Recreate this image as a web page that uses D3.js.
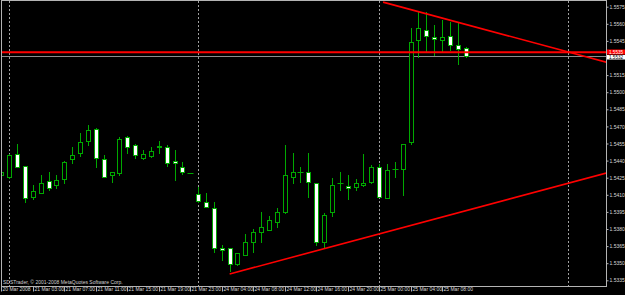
<!DOCTYPE html>
<html>
<head>
<meta charset="utf-8">
<script src="https://cdn.jsdelivr.net/npm/d3@7"></script>
<style>
body { margin: 0; background: #000; }
svg { display: block; }
</style>
</head>
<body>
<script>
// H1 candles, 20 Mar 2008 23:00 -> 25 Mar 2008 11:00
const opens = [1.5427, 1.5426, 1.5446, 1.5435, 1.5408, 1.5412, 1.5422, 1.5419, 1.5424, 1.5441,
               1.5447, 1.5457, 1.5468, 1.5441, 1.5427, 1.5429, 1.5461, 1.5454, 1.5442, 1.5444,
               1.5452, 1.5452, 1.5440, 1.5434, 1.5429, 1.5411, 1.5404, 1.5398, 1.5363, 1.5363,
               1.5349, 1.5357, 1.5369, 1.5377, 1.5379, 1.5386, 1.5395, 1.5426, 1.5430, 1.5430,
               1.5420, 1.5369, 1.5395, 1.5420, 1.5418, 1.5417, 1.5419, 1.5421, 1.5434, 1.5407,
               1.5433, 1.5433, 1.5456, 1.5546, 1.5555, 1.5548, 1.5546, 1.5549, 1.5541, 1.5539];
const highs = [1.5442, 1.5446, 1.5455, 1.5435, 1.5419, 1.5427, 1.5430, 1.5427, 1.5440, 1.5452,
               1.5464, 1.5471, 1.5469, 1.5445, 1.5430, 1.5461, 1.5462, 1.5455, 1.5449, 1.5452,
               1.5457, 1.5454, 1.5449, 1.5439, 1.5429, 1.5417, 1.5412, 1.5404, 1.5366, 1.5363,
               1.5359, 1.5376, 1.5380, 1.5395, 1.5391, 1.5398, 1.5454, 1.5447, 1.5434, 1.5447,
               1.5420, 1.5394, 1.5425, 1.5430, 1.5427, 1.5424, 1.5446, 1.5436, 1.5437, 1.5437,
               1.5439, 1.5455, 1.5556, 1.5570, 1.5570, 1.5559, 1.5563, 1.5562, 1.5562, 1.5540];
const lows = [1.5421, 1.5425, 1.5434, 1.5404, 1.5406, 1.5412, 1.5414, 1.5416, 1.5420, 1.5438,
              1.5444, 1.5454, 1.5434, 1.5426, 1.5421, 1.5427, 1.5447, 1.5442, 1.5441, 1.5443,
              1.5447, 1.5435, 1.5423, 1.5428, 1.5429, 1.5404, 1.5399, 1.5360, 1.5353, 1.5343,
              1.5348, 1.5357, 1.5360, 1.5369, 1.5379, 1.5382, 1.5394, 1.5420, 1.5421, 1.5408,
              1.5366, 1.5363, 1.5391, 1.5414, 1.5406, 1.5414, 1.5418, 1.5420, 1.5408, 1.5407,
              1.5426, 1.5410, 1.5455, 1.5531, 1.5535, 1.5533, 1.5535, 1.5537, 1.5525, 1.5531];
const closes = [1.5430, 1.5445, 1.5434, 1.5407, 1.5413, 1.5420, 1.5416, 1.5423, 1.5439, 1.5445,
                1.5456, 1.5467, 1.5442, 1.5426, 1.5430, 1.5459, 1.5452, 1.5445, 1.5446, 1.5448,
                1.5453, 1.5438, 1.5438, 1.5430, 1.5429, 1.5405, 1.5399, 1.5363, 1.5362, 1.5349,
                1.5359, 1.5369, 1.5377, 1.5382, 1.5388, 1.5395, 1.5427, 1.5430, 1.5430, 1.5421,
                1.5369, 1.5392, 1.5419, 1.5420, 1.5416, 1.5420, 1.5420, 1.5434, 1.5408, 1.5432,
                1.5433, 1.5455, 1.5544, 1.5556, 1.5549, 1.5547, 1.5548, 1.5541, 1.5538, 1.5532];

const timeLabels = ['20 Mar 2008', '21 Mar 03:00', '21 Mar 07:00', '21 Mar 11:00', '21 Mar 15:00',
                    '21 Mar 19:00', '21 Mar 23:00', '24 Mar 04:00', '24 Mar 08:00', '24 Mar 12:00',
                    '24 Mar 16:00', '24 Mar 20:00', '25 Mar 00:00', '25 Mar 04:00', '25 Mar 08:00'];
const labelBars = [0, 4, 8, 12, 16, 20, 24, 28, 32, 36, 40, 44, 48, 52, 56];
const dayStarts = [1, 25, 48, 72];
const priceTicks = [1.5335, 1.5350, 1.5365, 1.5380, 1.5395, 1.5410, 1.5425, 1.5440, 1.5455,
                    1.5470, 1.5485, 1.5500, 1.5515, 1.5530, 1.5545, 1.5560, 1.5575];

// objects drawn on the chart
const hLevel = 1.5535;
const trendDown = [{bar: 48.5, price: 1.5579}, {bar: 77, price: 1.5526}];
const trendUp = [{bar: 29, price: 1.53405}, {bar: 76.8, price: 1.5429}];

const W = 625, H = 295;
const plotLeft = 2, plotTop = 1, plotRight = 606, plotBottom = 286;
const green = '#00a800';

const svg = d3.select(document.body)
    .append('svg')
    .attr('width', W)
    .attr('height', H)
    .style('background', '#000')
    .style('font-family', '"Liberation Sans", Arial, sans-serif');

const xScale = d3.scaleLinear().domain([0, 72]).range([1.4, 568]);
const yScale = d3.scaleLinear().domain([1.5335, 1.5575]).range([280.3, 6.7]);

svg.append('defs').append('clipPath')
    .attr('id', 'plot')
    .append('rect')
    .attr('x', plotLeft).attr('y', plotTop)
    .attr('width', plotRight - plotLeft).attr('height', plotBottom - plotTop);

const plot = svg.append('g').attr('clip-path', 'url(#plot)');

// day separators
plot.selectAll('line.sep')
    .data(dayStarts)
    .enter()
    .append('line')
    .attr('class', 'sep')
    .attr('x1', d => Math.round(xScale(d)) + 0.5)
    .attr('x2', d => Math.round(xScale(d)) + 0.5)
    .attr('y1', plotTop)
    .attr('y2', plotBottom)
    .attr('stroke', '#a0a0a0')
    .attr('stroke-dasharray', '2,2');

// bid line
const lastClose = closes[closes.length - 1];
plot.append('line')
    .attr('x1', plotLeft).attr('x2', plotRight)
    .attr('y1', Math.round(yScale(lastClose)) + 0.5)
    .attr('y2', Math.round(yScale(lastClose)) + 0.5)
    .attr('stroke', '#8c8c8c');

// candles
const bars = d3.range(opens.length);
const cx = i => Math.round(xScale(i));

const candles = plot.append('g').selectAll('g')
    .data(bars)
    .enter()
    .append('g');

candles.append('line')
    .attr('x1', i => cx(i) + 0.5)
    .attr('x2', i => cx(i) + 0.5)
    .attr('y1', i => Math.round(yScale(highs[i])))
    .attr('y2', i => Math.round(yScale(lows[i])) + 1)
    .attr('stroke', green);

candles.each(function(i){
    const g = d3.select(this);
    const yo = Math.round(yScale(opens[i]));
    const yc = Math.round(yScale(closes[i]));
    if (Math.abs(yo - yc) < 1) {
        g.append('line')
            .attr('x1', cx(i) - 2.5).attr('x2', cx(i) + 3.5)
            .attr('y1', yo + 0.5).attr('y2', yo + 0.5)
            .attr('stroke', green);
    } else {
        g.append('rect')
            .attr('x', cx(i) - 2 + 0.5)
            .attr('y', Math.min(yo, yc) + 0.5)
            .attr('width', 4)
            .attr('height', Math.abs(yo - yc))
            .attr('fill', closes[i] < opens[i] ? '#fff' : '#000')
            .attr('stroke', green);
    }
});

// red objects
plot.append('line')
    .attr('x1', plotLeft).attr('x2', plotRight)
    .attr('y1', yScale(hLevel)).attr('y2', yScale(hLevel))
    .attr('stroke', '#ff0000')
    .attr('stroke-width', 2);

function drawTrend(pts){
    const slope = (pts[1].price - pts[0].price) / (pts[1].bar - pts[0].bar);
    const endBar = xScale.invert(plotRight + 2);
    const endPrice = pts[0].price + slope * (endBar - pts[0].bar);
    const line = d3.line()
        .x(d => xScale(d.bar))
        .y(d => yScale(d.price));
    plot.append('path')
        .attr('d', line([pts[0], {bar: endBar, price: endPrice}]))
        .attr('fill', 'none')
        .attr('stroke', '#ff0000')
        .attr('stroke-width', 1.6);
}
drawTrend(trendDown);
drawTrend(trendUp);

// frame
svg.append('rect')
    .attr('x', 1.5).attr('y', 0.5)
    .attr('width', plotRight - 1)
    .attr('height', plotBottom)
    .attr('fill', 'none')
    .attr('stroke', '#b4b4b4');

// price axis
const yAxis = d3.axisRight(yScale)
    .tickValues(priceTicks)
    .tickFormat(d3.format('.4f'))
    .tickSize(2)
    .tickPadding(1);
const ya = svg.append('g')
    .attr('transform', `translate(${plotRight + 0.5},0)`)
    .call(yAxis);
ya.select('.domain').remove();
ya.selectAll('line').attr('stroke', '#b4b4b4');
ya.selectAll('text').attr('fill', '#d8d8d8').style('font-size', '5px');
// the 1.5530 label sits under the price boxes
ya.selectAll('.tick').filter(d => Math.abs(d - 1.5530) < 1e-6).select('text').remove();

// time axis
const xAxis = d3.axisBottom(xScale)
    .tickValues(labelBars)
    .tickFormat((d, i) => timeLabels[i])
    .tickSize(5)
    .tickPadding(0);
const xa = svg.append('g')
    .attr('transform', `translate(0.5,${plotBottom + 0.5})`)
    .call(xAxis);
xa.select('.domain').remove();
xa.selectAll('.tick').attr('transform', d => `translate(${Math.round(xScale(d))},0)`);
xa.selectAll('line').attr('stroke', '#b4b4b4');
xa.selectAll('text')
    .attr('fill', '#d8d8d8')
    .attr('text-anchor', 'start')
    .attr('x', 1)
    .attr('y', 1)
    .style('font-size', '5px');

// price labels on the scale
svg.append('rect')
    .attr('x', plotRight + 1).attr('y', 49.5)
    .attr('width', 19).attr('height', 5)
    .attr('fill', '#ff0000');
svg.append('text')
    .attr('x', plotRight + 3).attr('y', 53.8)
    .attr('fill', '#fff')
    .style('font-size', '4.6px')
    .text(d3.format('.4f')(hLevel));
svg.append('rect')
    .attr('x', plotRight + 1).attr('y', 55)
    .attr('width', 19).attr('height', 4.5)
    .attr('fill', '#fff');
svg.append('text')
    .attr('x', plotRight + 3).attr('y', 59)
    .attr('fill', '#000')
    .style('font-size', '4.6px')
    .text(d3.format('.4f')(lastClose));

// copyright
svg.append('text')
    .attr('x', 3).attr('y', 284)
    .attr('fill', '#d0d0d0')
    .style('font-size', '5px')
    .text('SDSTrader, © 2001-2008 MetaQuotes Software Corp.');
</script>
</body>
</html>
